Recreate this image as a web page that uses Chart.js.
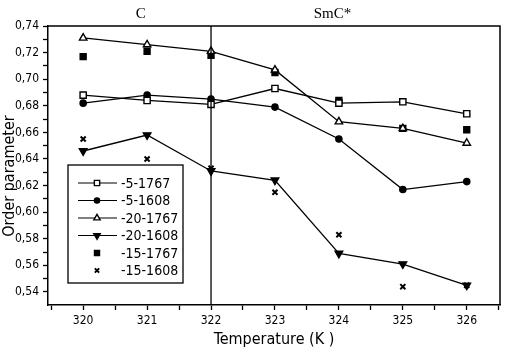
<!DOCTYPE html>
<html><head><meta charset="utf-8">
<script src="https://cdn.jsdelivr.net/npm/chart.js@4/dist/chart.umd.min.js"></script>
<style>html,body{margin:0;padding:0;background:#fff}#wrap{width:509px;height:352px}</style>
</head><body><div id="wrap"><canvas id="c" width="509" height="352"></canvas></div>
<script>
const temperatures = [320, 321, 322, 323, 324, 325, 326];
const s5_1767  = [0.688, 0.684, 0.681, 0.693, 0.682, 0.683, 0.674];
const s5_1608  = [0.682, 0.688, 0.685, 0.679, 0.655, 0.617, 0.623];
const s20_1767 = [0.731, 0.726, 0.721, 0.707, 0.668, 0.663, 0.652];
const s20_1608 = [0.646, 0.658, 0.631, 0.624, 0.569, 0.561, 0.545];
const s15_1767 = [0.717, 0.721, 0.718, 0.705, 0.684, 0.663, 0.662];
const s15_1608 = [0.655, 0.640, 0.633, 0.615, 0.583, 0.544, 0.545];
const seriesNames = ['-5-1767', '-5-1608', '-20-1767', '-20-1608', '-15-1767', '-15-1608'];
const yTickValues = [0.54, 0.56, 0.58, 0.60, 0.62, 0.64, 0.66, 0.68, 0.70, 0.72, 0.74];
const yTickLabels = ['0,54', '0,56', '0,58', '0,60', '0,62', '0,64', '0,66', '0,68', '0,70', '0,72', '0,74'];
const xTickLabels = ['320', '321', '322', '323', '324', '325', '326'];
const phaseLabels = ['C', 'SmC*'];
const phaseBoundary = 322;
const xTitle = 'Temperature (K )';
const yTitle = 'Order parameter';

const FONT = "'Liberation Sans Narrow', 'DejaVu Sans Condensed', sans-serif";

function pts(vals) { return temperatures.map((t, i) => ({x: t, y: vals[i]})); }

const styles = [
  {pointStyle: 'rect', bg: '#fff', radius: 4.4, rotation: 0, line: true},
  {pointStyle: 'circle', bg: '#000', radius: 3.1, rotation: 0, line: true},
  {pointStyle: 'triangle', bg: '#fff', radius: 4.3, rotation: 0, line: true},
  {pointStyle: 'triangle', bg: '#000', radius: 4.4, rotation: 180, line: true},
  {pointStyle: 'rect', bg: '#000', radius: 4.2, rotation: 0, line: false},
  {pointStyle: 'crossRot', bg: '#000', radius: 3.6, rotation: 0, line: false}
];
const valueSets = [s5_1767, s5_1608, s20_1767, s20_1608, s15_1767, s15_1608];

const datasets = valueSets.map((v, i) => ({
  label: seriesNames[i],
  data: pts(v),
  showLine: styles[i].line,
  borderColor: '#000',
  borderWidth: 1.3,
  backgroundColor: styles[i].bg,
  pointStyle: styles[i].pointStyle,
  pointRadius: styles[i].radius,
  pointRotation: styles[i].rotation,
  pointBackgroundColor: styles[i].bg,
  pointBorderColor: '#000',
  pointBorderWidth: i === 5 ? 2 : 1.4,
  tension: 0
}));

const xTicks = [];
for (let t = 319.5; t <= 326.5 + 1e-9; t += 0.5) xTicks.push(t);
const yTicks = [];
for (let k = 54; k <= 74; k++) yTicks.push(k / 100);

const deco = {
  id: 'deco',
  afterDatasetsDraw(chart) {
    const ctx = chart.ctx, a = chart.chartArea, xs = chart.scales.x;
    ctx.save();
    ctx.strokeStyle = '#000';
    ctx.lineWidth = 1.5;
    ctx.beginPath();
    ctx.moveTo(a.left, a.top); ctx.lineTo(a.right, a.top); ctx.lineTo(a.right, a.bottom);
    ctx.stroke();
    const bx = xs.getPixelForValue(phaseBoundary);
    ctx.lineWidth = 1.3;
    ctx.beginPath(); ctx.moveTo(bx, a.top); ctx.lineTo(bx, a.bottom); ctx.stroke();
    // phase labels
    ctx.fillStyle = '#000';
    ctx.font = "15px 'Liberation Serif', serif";
    ctx.textAlign = 'center'; ctx.textBaseline = 'middle';
    ctx.fillText(phaseLabels[0], xs.getPixelForValue(320.9), 14);
    ctx.fillText(phaseLabels[1], xs.getPixelForValue(323.9), 14);
    // axis titles
    ctx.font = '16px ' + FONT;
    ctx.fillText(xTitle, (a.left + a.right) / 2, 340);
    ctx.save();
    ctx.translate(10, 176); ctx.rotate(-Math.PI / 2);
    ctx.fillText(yTitle, 0, 0);
    ctx.restore();
    // legend
    ctx.lineWidth = 1.3;
    ctx.strokeRect(68, 165, 115, 118);
    ctx.font = '14px ' + FONT;
    ctx.textAlign = 'left';
    for (let i = 0; i < seriesNames.length; i++) {
      const y = 183 + i * 17.5;
      const st = styles[i];
      ctx.strokeStyle = '#000';
      if (st.line) {
        ctx.lineWidth = 1.2;
        ctx.beginPath(); ctx.moveTo(78, y); ctx.lineTo(117, y); ctx.stroke();
      }
      ctx.fillStyle = st.bg;
      ctx.lineWidth = i === 5 ? 2 : 1.4;
      Chart.helpers.drawPoint(ctx, {pointStyle: st.pointStyle, radius: st.radius * 0.85, rotation: st.rotation, borderWidth: ctx.lineWidth}, 97, y);
      ctx.fillStyle = '#000';
      ctx.fillText(seriesNames[i], 121, y + 1);
    }
    ctx.restore();
  }
};

new Chart(document.getElementById('c'), {
  type: 'scatter',
  data: {datasets},
  options: {
    responsive: false,
    animation: false,
    devicePixelRatio: 1,
    layout: {padding: {top: 26, right: 9, left: 0, bottom: 0}},
    plugins: {legend: {display: false}, tooltip: {enabled: false}},
    scales: {
      x: {
        type: 'linear', min: 319.45, max: 326.52,
        afterBuildTicks: s => { s.ticks = xTicks.map(v => ({value: v})); },
        afterFit: s => { s.height = 47; },
        ticks: {
          autoSkip: false, maxRotation: 0, padding: 4, color: '#000',
          font: {family: FONT, size: 12},
          callback: v => { const i = temperatures.indexOf(v); return i >= 0 ? xTickLabels[i] : ''; }
        },
        grid: {drawOnChartArea: false, drawTicks: true, tickLength: 5, tickColor: '#000', tickWidth: 1.3},
        border: {color: '#000', width: 1.5}
      },
      y: {
        type: 'linear', min: 0.5302, max: 0.74,
        afterBuildTicks: s => { s.ticks = yTicks.map(v => ({value: v})); },
        afterFit: s => { s.width = 48; },
        ticks: {
          autoSkip: false, padding: 4, color: '#000',
          font: {family: FONT, size: 12},
          callback: v => { const i = yTickValues.findIndex(t => Math.abs(t - v) < 1e-6); return i >= 0 ? yTickLabels[i] : ''; }
        },
        grid: {drawOnChartArea: false, drawTicks: true, tickLength: 5, tickColor: '#000', tickWidth: 1.3},
        border: {color: '#000', width: 1.5}
      }
    }
  },
  plugins: [deco]
});
</script></body></html>
